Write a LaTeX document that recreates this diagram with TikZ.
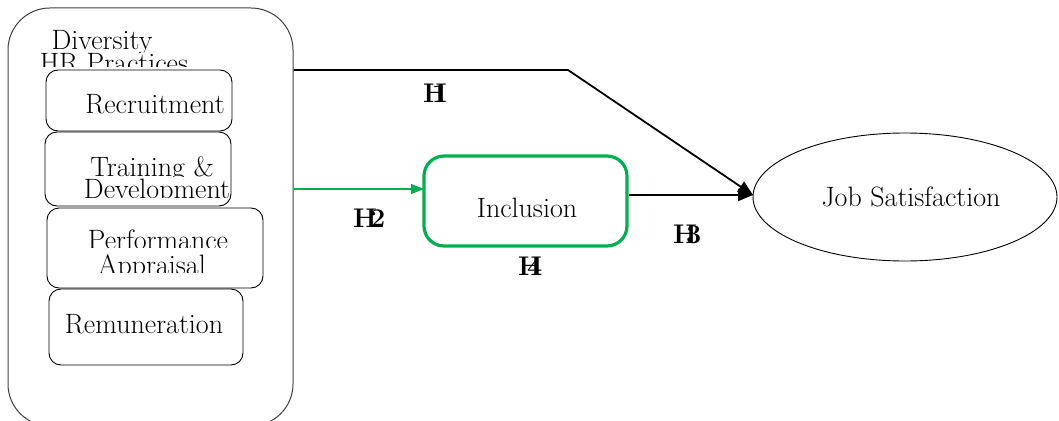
\documentclass[tikz,border=0pt]{standalone}
\usetikzlibrary{arrows.meta,shapes.geometric}
\definecolor{incgreen}{HTML}{00B050}
\newcommand{\hyplab}[2]{\textbf{H\kern#1em #2}}
\begin{document}
\begin{tikzpicture}[x=1pt,y=-1pt,
  txt/.style={font=\fontsize{28}{28}\selectfont, inner sep=0pt, anchor=base},
  hlab/.style={font=\fontsize{27}{27}\selectfont, inner sep=0pt, anchor=base west},
  inbox/.style={draw=black, line width=0.9pt, rounded corners=12pt, minimum width=#1, inner sep=0pt},
  harrow/.style={-{Triangle[length=15pt,width=12pt]}, line width=1.8pt}
]
\useasboundingbox (0,0) rectangle (1059,420);
% outer container
\node[draw=black!75, line width=1pt, rounded corners=42pt, minimum width=285pt, minimum height=418pt, inner sep=0pt] (hr) at (150.5,217) {};
% inner boxes
\node[inbox=186pt, minimum height=61pt] (rec) at (139,100.5) {};
\node[inbox=186pt, minimum height=74pt] (trn) at (138,169) {};
\node[inbox=216pt, minimum height=80pt] (prf) at (155,248) {};
\node[inbox=194pt, minimum height=76pt] (rem) at (146,327) {};
% texts with clipping
\begin{scope}\clip (0,0) rectangle (290,52.5);
\node[txt] (t1) at (102,50) {Diversity};\end{scope}
\begin{scope}\clip (0,0) rectangle (290,66);
\node[txt] (t2) at (114,72) {HR Practices};\end{scope}
\node[txt] (t3) at (155,113) {Recruitment};
\begin{scope}\clip (0,140) rectangle (290,176);
\node[txt] (t4) at (152,176) {Training \&};\end{scope}
\begin{scope}\clip (0,140) rectangle (290,197);
\node[txt] (t5) at (157,198) {Development};\end{scope}
\begin{scope}\clip (0,210) rectangle (290,247);
\node[txt] (t6) at (158,249) {Performance};\end{scope}
\begin{scope}\clip (0,210) rectangle (290,272);
\node[txt] (t7) at (152,274) {Appraisal};\end{scope}
\node[txt] (t8) at (144,333) {Remuneration};
% inclusion
\node[draw=incgreen, line width=3.2pt, rounded corners=20pt, minimum width=203pt, minimum height=90pt, inner sep=0pt] (inc) at (525.5,201) {};
\node[txt] (tinc) at (527,217) {Inclusion};
% job satisfaction
\node[draw=black, line width=0.9pt, ellipse, minimum width=304pt, minimum height=128pt, inner sep=0pt] (js) at (905,197) {};
\node[txt] (tjs) at (911,206) {Job Satisfaction};
% connectors
\coordinate (bend) at (568,70);
\coordinate (g) at (424,189);
\coordinate (jsin) at (753,195);
\draw[harrow] (hr.east |- bend) -- (bend) -- (jsin);
\draw[harrow] (inc.east |- jsin) -- (jsin);
\draw[incgreen, line width=1.4pt, -{Triangle[length=13pt,width=10pt]}] (hr.east |- g) -- (g);
% hypothesis labels
\node[hlab] (h1) at (423,102) {\hyplab{-0.55}{1}};
\node[hlab] (h2) at (353,227) {\hyplab{-0.25}{2}};
\node[hlab] (h3) at (673,243) {\hyplab{-0.4}{3}};
\node[hlab] (h4) at (518,275) {\hyplab{-0.55}{4}};
\end{tikzpicture}
\end{document}
